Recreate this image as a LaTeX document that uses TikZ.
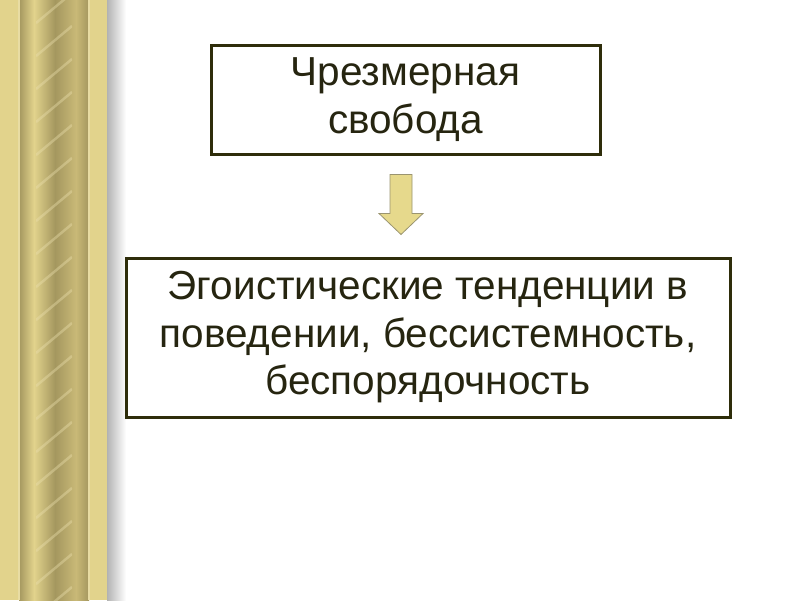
\documentclass[tikz,border=0pt]{standalone}
\usepackage{fontspec}
\setmainfont{Liberation Sans}
\usepackage{tikz}
\usetikzlibrary{positioning}

\definecolor{goldlight}{HTML}{E2D38C}
\definecolor{golddark}{HTML}{A4975F}
\definecolor{goldmid}{HTML}{C9B977}
\definecolor{boxline}{HTML}{2E2D0A}
\definecolor{boxtext}{HTML}{262510}
\definecolor{arrowfill}{HTML}{E6D98C}
\definecolor{arrowline}{HTML}{9A9470}

\begin{document}
\begin{tikzpicture}[x=1pt, y=-1pt]
    \tikzstyle{box} = [draw=boxline, line width=3pt, fill=white, rectangle, align=center, inner sep=0pt, text=boxtext, font=\fontsize{40.5}{47.5}\selectfont]
    \tikzstyle{band} = [draw=none]

    \useasboundingbox (0,0) rectangle (800,600);
    \fill[white] (0,0) rectangle (800,600);

    % gold frame on the left
    \fill[goldlight] (0,0) rectangle (107,600);
    \shade[band, left color=golddark, right color=goldlight] (19,0) rectangle (34,600);
    \shade[band, left color=goldlight, right color=golddark] (34,0) rectangle (55,600);
    \shade[band, left color=golddark, right color=goldmid] (55,0) rectangle (76,600);
    \shade[band, left color=goldmid, right color=golddark] (76,0) rectangle (89,600);
    \fill[goldlight!80!white] (18,0) rectangle (19.5,600);
    \fill[goldlight!80!white] (88,0) rectangle (89.5,600);
    \begin{scope}
        \clip (36,0) rectangle (72,600);
        \foreach \y in {-40,-7,...,640}
            \draw[goldlight!70!white, line width=2.5pt, opacity=0.4] (36,\y+30) -- (72,\y);
    \end{scope}
    \shade[band, left color=black!30, right color=white] (107,0) rectangle (126,600);

    % boxes
    \node [box, minimum width=389pt, minimum height=109pt] (freedom) at (405.5,99.5) {Чрезмерная\\свобода};
    \node [box, minimum width=604pt, minimum height=159pt] (egoism) at (428,337.5) {Эгоистические тенденции в\\поведении, бессистемность,\\беспорядочность};

    % block arrow
    \coordinate (arrtop) at ([xshift=-4.5pt, yshift=-19pt]freedom.south);
    \draw[draw=arrowline, fill=arrowfill, line width=0.8pt, line join=miter]
        (arrtop) ++(-11,0) -- ++(22,0) -- ++(0,39) -- ++(11,0) -- ++(-22,21)
        -- ++(-22,-21) -- ++(11,0) -- cycle;
\end{tikzpicture}
\end{document}
